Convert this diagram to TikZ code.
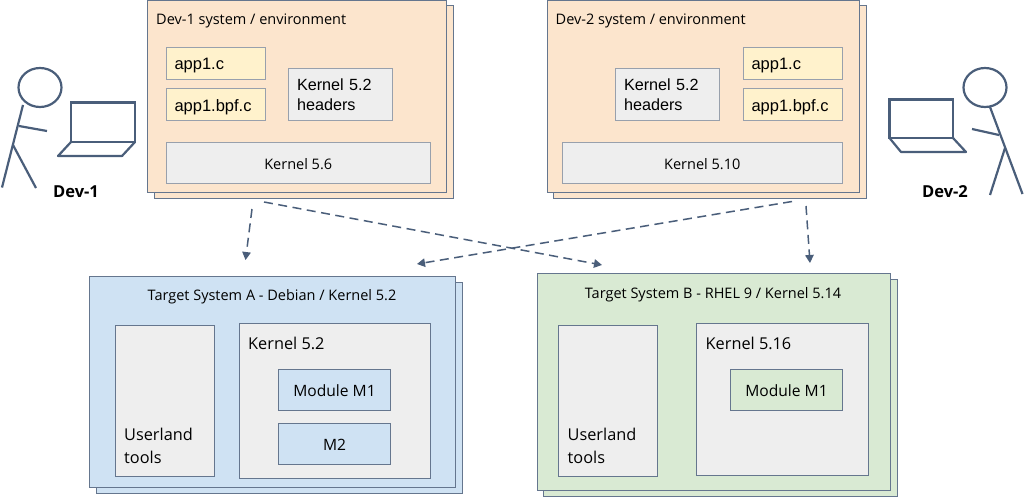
\documentclass[tikz,border=0pt]{standalone}
\usepackage{fontspec}
\setmainfont{Open Sans}
\newfontfamily\arialf{Liberation Sans}
\usetikzlibrary{arrows.meta}
\definecolor{peach}{HTML}{FCE5CD}
\definecolor{paleyellow}{HTML}{FFF2CC}
\definecolor{palegray}{HTML}{EEEEEE}
\definecolor{paleblue}{HTML}{CFE2F3}
\definecolor{palegreen}{HTML}{D9EAD3}
\definecolor{slateline}{HTML}{4A5E7A}
\definecolor{softline}{HTML}{98A0AC}
\tikzset{
  x=1pt,y=-1pt,
  boxbase/.style={draw=softline,line width=1pt,rectangle,inner sep=0pt,outer sep=0pt},
  outerbox/.style={boxbase,draw=slateline!85!white},
  filebox/.style={boxbase,fill=paleyellow,minimum width=99pt,minimum height=32pt,text width=82pt,text height=13pt,text depth=0pt,align=left,font=\arialf\fontsize{16.5}{18}\selectfont},
  headerbox/.style={boxbase,fill=palegray,minimum width=104pt,minimum height=52pt,text width=87pt,align=left,font=\arialf\fontsize{16.2}{20}\selectfont},
  kernbar/.style={boxbase,fill=palegray,minimum height=40pt,text height=12pt,text depth=0pt,font=\fontsize{14.5}{17}\selectfont},
  title/.style={anchor=base west,inner sep=0pt,font=\fontsize{14.5}{17}\selectfont},
  ttitle/.style={anchor=base,inner sep=0pt,font=\fontsize{14.5}{17}\selectfont},
  biglabel/.style={anchor=base west,inner sep=0pt,font=\fontsize{16.3}{23}\selectfont,align=left},
  grayfill/.style={boxbase,draw=slateline!85!white,fill=palegray},
  modbox/.style={boxbase,draw=slateline!85!white,minimum width=112pt,minimum height=41pt,text height=13pt,text depth=0pt,font=\fontsize{15.6}{18}\selectfont},
  figline/.style={draw=slateline,line width=2.2pt},
  devlabel/.style={inner sep=0pt,font=\bfseries\fontsize{16.5}{18}\selectfont},
  flow/.style={draw=slateline,line width=1.5pt,dash pattern=on 9pt off 5.5pt,-{Triangle[length=8pt,width=8.5pt]}},
}
\newcommand{\boxat}[6][]{\node[#2,#1,minimum width=#5pt-#3pt,minimum height=#6pt-#4pt] at ({(#3+#5)/2},{(#4+#6)/2})}
\begin{document}
\begin{tikzpicture}
\useasboundingbox (0,0) rectangle (1024,497);
% Dev-1 system
\boxat[fill=peach]{outerbox}{154}{6}{453}{198} (d1back) {};
\boxat[fill=peach]{outerbox}{147}{0.5}{446}{192.5} (d1front) {};
\node[title] (d1title) at (156,24.5) {Dev-1 system / environment};
\node[filebox] (d1app) at (215.5,63.5) {app1.c};
\node[filebox] (d1bpf) at (215.5,105) {app1.bpf.c};
\node[headerbox] (d1head) at (340.5,94.5) {Kernel 5.2\\headers};
\boxat{kernbar}{166}{143}{430.5}{183} (d1kern) {Kernel 5.6};
% Dev-2 system
\boxat[fill=peach]{outerbox}{553.5}{6}{866}{198} (d2back) {};
\boxat[fill=peach]{outerbox}{547}{0.5}{859.5}{192.5} (d2front) {};
\node[title] (d2title) at (555.5,24.5) {Dev-2 system / environment};
\node[headerbox] (d2head) at (667.5,94.5) {Kernel 5.2\\headers};
\node[filebox] (d2app) at (792.5,63.5) {app1.c};
\node[filebox] (d2bpf) at (792.5,105) {app1.bpf.c};
\boxat{kernbar}{562.5}{143}{842}{183} (d2kern) {Kernel 5.10};
% Target A
\boxat[fill=paleblue]{outerbox}{96}{282}{462}{493} (taback) {};
\boxat[fill=paleblue]{outerbox}{89}{276}{455}{487.5} (tafront) {};
\node[ttitle] (tatitle) at (272,300) {Target System A - Debian / Kernel 5.2};
\boxat{grayfill}{115}{325}{214}{476} (tauser) {};
\node[biglabel] (tausertext) at (124,463.5) {Userland\\tools};
\boxat{grayfill}{239}{323.5}{430.5}{478} (takern) {};
\node[biglabel] (takerntext) at (248,349.5) {Kernel 5.2};
\node[modbox,fill=paleblue] (tam1) at (334.5,389.5) {Module M1};
\node[modbox,fill=paleblue] (tam2) at (334.5,443.5) {M2};
% Target B
\boxat[fill=palegreen]{outerbox}{543.5}{279.5}{897}{496} (tbback) {};
\boxat[fill=palegreen]{outerbox}{537}{273.5}{890.5}{490} (tbfront) {};
\node[ttitle] (tbtitle) at (713,298) {Target System B - RHEL 9 / Kernel 5.14};
\boxat{grayfill}{558.5}{325}{657.5}{476} (tbuser) {};
\node[biglabel] (tbusertext) at (567.5,463.5) {Userland\\tools};
\boxat{grayfill}{696.5}{323.5}{868.5}{475} (tbkern) {};
\node[biglabel] (tbkerntext) at (705.5,349.5) {Kernel 5.16};
\node[modbox,fill=palegreen] (tbm1) at (786.5,389.5) {Module M1};
% Connector ends
\coordinate (f1a) at (252,209);
\coordinate (t1a) at (245.5,260);
\coordinate (f1b) at (264,202);
\coordinate (t1b) at (602,265);
\coordinate (f2a) at (792,201.5);
\coordinate (t2a) at (417,264);
\coordinate (f2b) at (806,206);
\coordinate (t2b) at (810,263);
\draw[flow] (f1a) -- (t1a);
\draw[flow] (f1b) -- (t1b);
\draw[flow] (f2a) -- (t2a);
\draw[flow] (f2b) -- (t2b);
% Dev-1 figure
\draw[figline] (40,87.5) ellipse [x radius=21.5,y radius=19.5];
\draw[figline] (23,105) -- (2,187.5);
\draw[figline] (19,126) -- (47,131);
\draw[figline] (13,145) -- (36,188);
\draw[figline] (71,102.5) rectangle (135,142);
\draw[figline,line join=round] (71,142) -- (58,156) -- (122,156) -- (135,142);
\node[devlabel] (dev1) at (76,192) {Dev-1};
% Dev-2 figure
\draw[figline] (985,87.5) ellipse [x radius=21.5,y radius=19.5];
\draw[figline] (990,107) -- (1022.5,194);
\draw[figline] (972,129) -- (999,135);
\draw[figline] (1005,148) -- (990,195);
\draw[figline] (889.5,99.5) rectangle (953,138);
\draw[figline,line join=round] (889.5,138) -- (901,152) -- (966,152) -- (953,138);
\node[devlabel] (dev2) at (945,192) {Dev-2};
\end{tikzpicture}
\end{document}
